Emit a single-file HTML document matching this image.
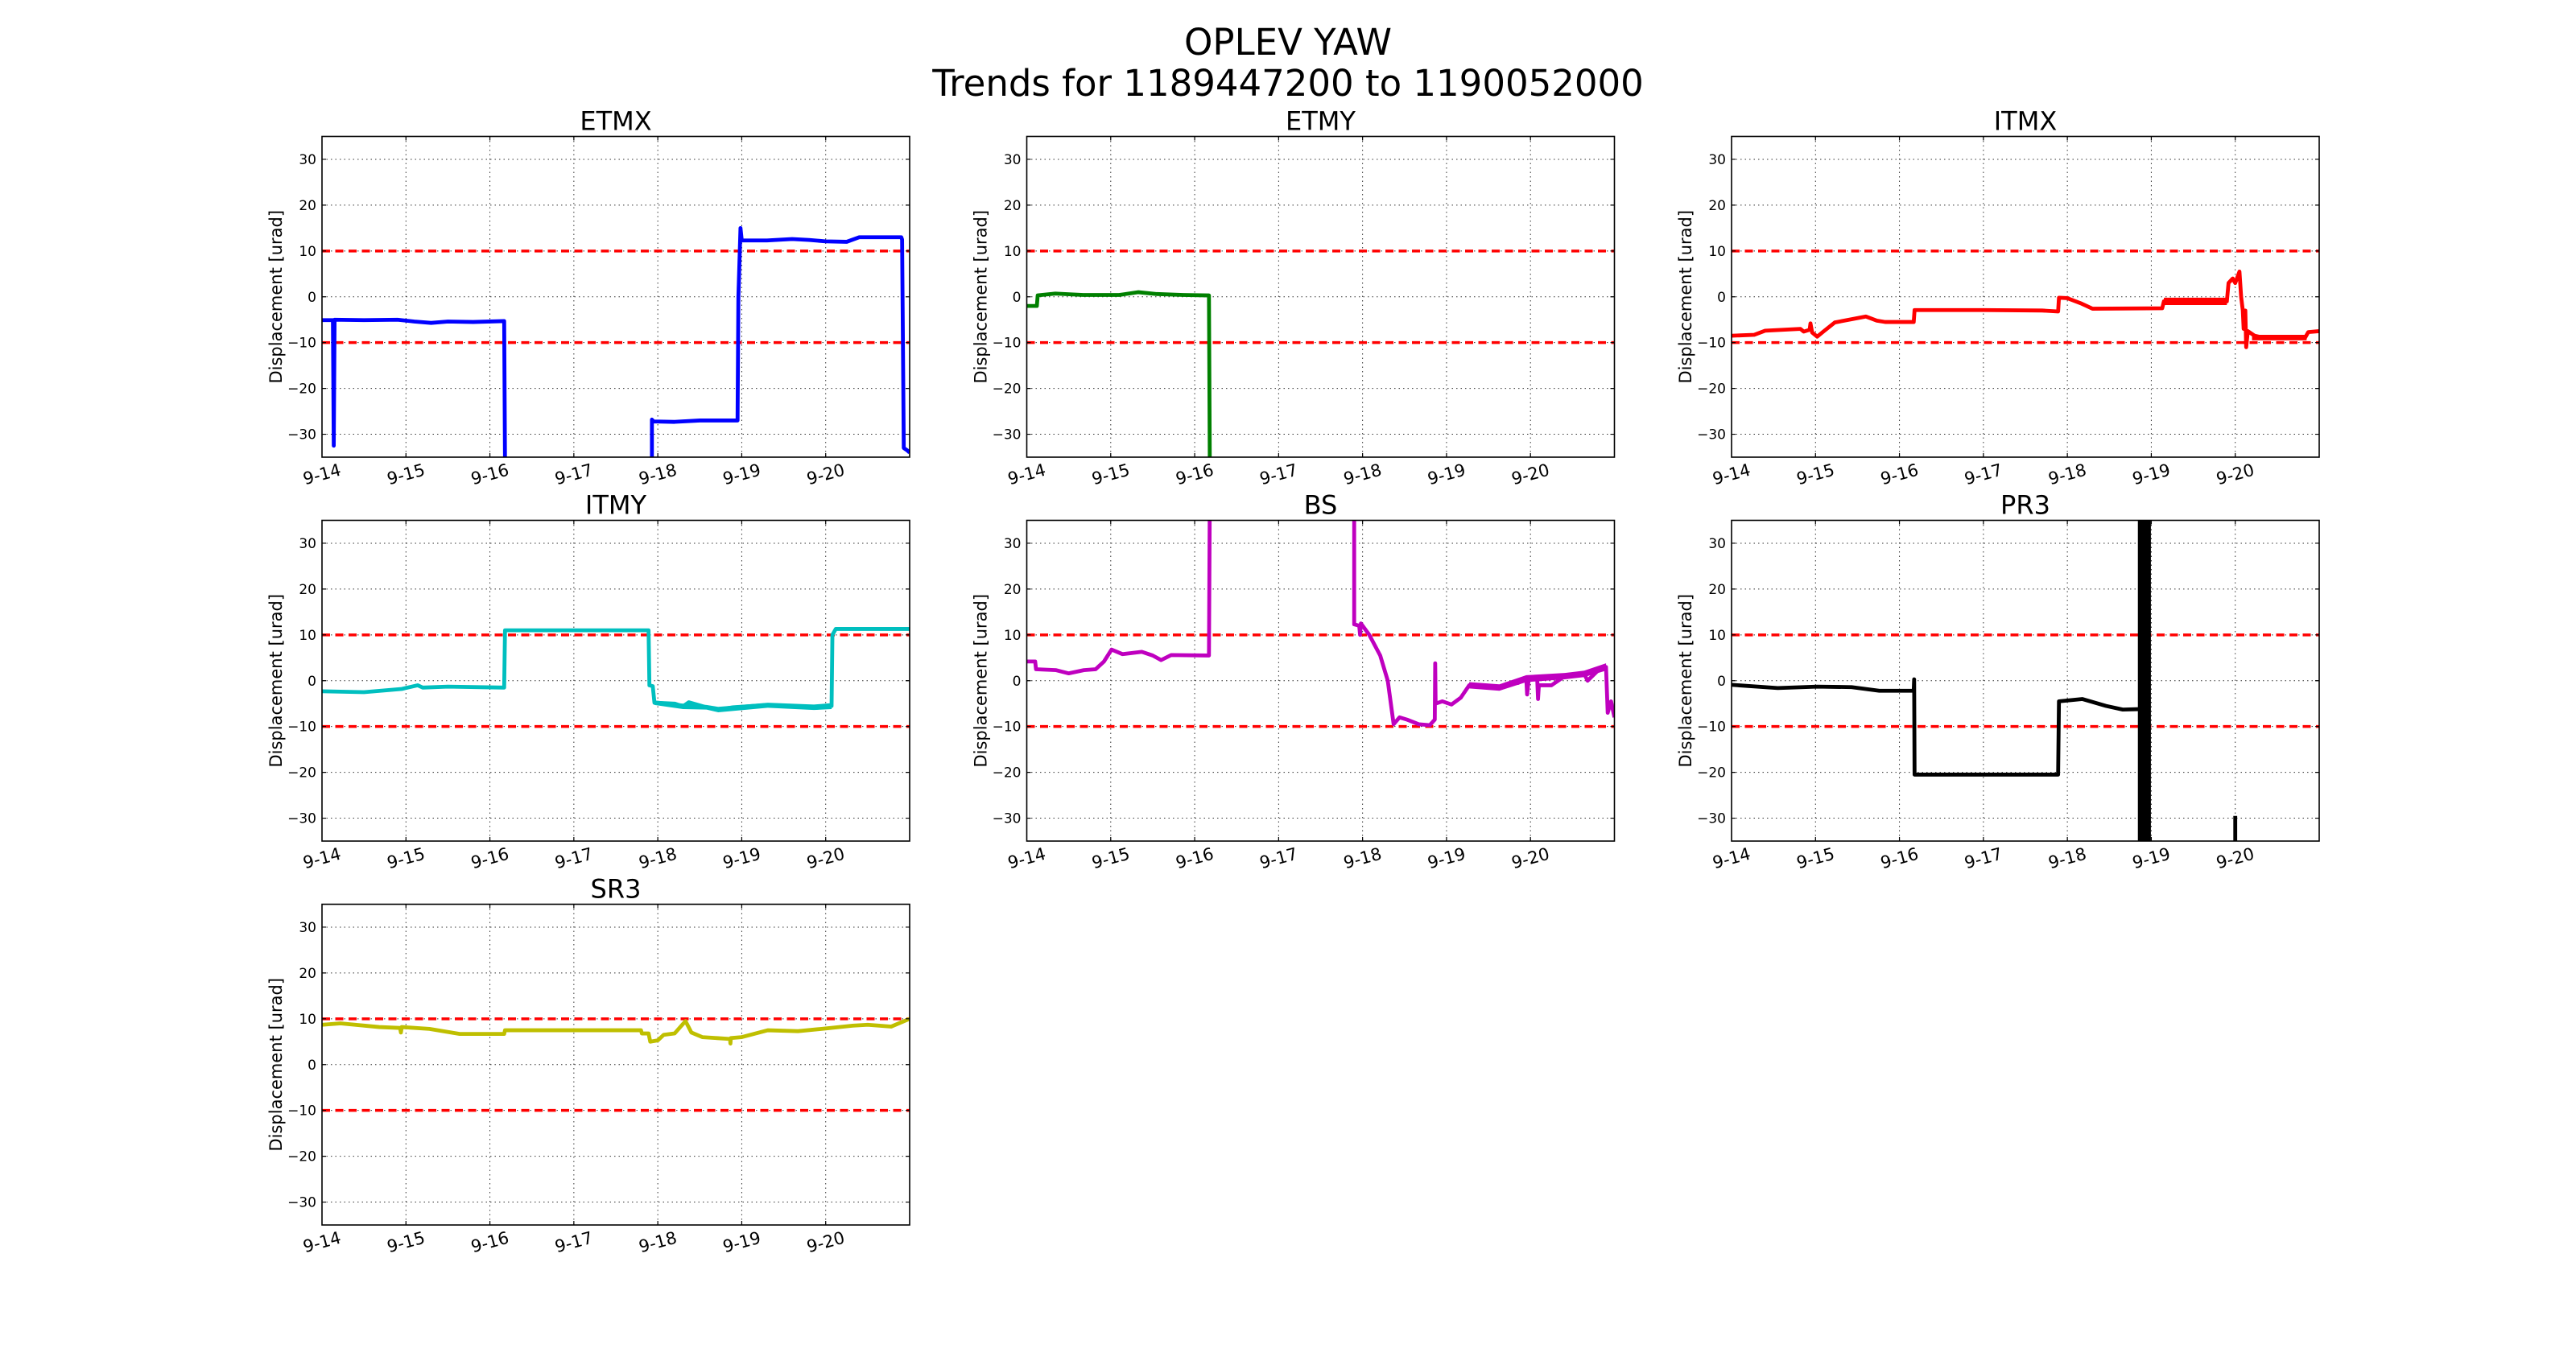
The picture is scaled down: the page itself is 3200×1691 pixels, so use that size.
<!DOCTYPE html>
<html><head><meta charset="utf-8"><style>
html,body{margin:0;padding:0;background:#fff;}
svg{display:block;}
text{font-family:"DejaVu Sans","Liberation Sans",sans-serif;fill:#000;}
.yt{font-size:17px;text-anchor:end;}
.xt{font-size:21px;text-anchor:middle;dominant-baseline:central;}
.yl{font-size:21px;text-anchor:middle;dominant-baseline:central;}
.tt{font-size:32px;text-anchor:middle;}
.mt{font-size:45px;text-anchor:middle;}
path.d{fill:none;stroke-width:4.8;stroke-linejoin:round;vector-effect:non-scaling-stroke;}
</style></head><body>
<svg width="3200" height="1691" viewBox="0 0 3200 1691" xmlns="http://www.w3.org/2000/svg">
<defs>
<g id="grid">
<g stroke="#333" stroke-width="1" stroke-dasharray="1.5 4">
<line x1="104.29" y1="0" x2="104.29" y2="398.5"/><line x1="208.57" y1="0" x2="208.57" y2="398.5"/>
<line x1="312.86" y1="0" x2="312.86" y2="398.5"/><line x1="417.14" y1="0" x2="417.14" y2="398.5"/>
<line x1="521.43" y1="0" x2="521.43" y2="398.5"/><line x1="625.71" y1="0" x2="625.71" y2="398.5"/>
<line x1="0" y1="28.46" x2="730" y2="28.46"/><line x1="0" y1="85.39" x2="730" y2="85.39"/>
<line x1="0" y1="142.32" x2="730" y2="142.32"/><line x1="0" y1="199.25" x2="730" y2="199.25"/>
<line x1="0" y1="256.18" x2="730" y2="256.18"/><line x1="0" y1="313.1" x2="730" y2="313.1"/>
<line x1="0" y1="370.04" x2="730" y2="370.04"/>
</g>
<g stroke="#f00" stroke-width="3.5" stroke-dasharray="10 6.5">
<line x1="0" y1="142.32" x2="730" y2="142.32"/><line x1="0" y1="256.18" x2="730" y2="256.18"/>
</g>
</g>
<g id="frame" fill="none" stroke="#000">
<rect x="0" y="0" width="730" height="398.5" stroke-width="1.6"/>
<path stroke-width="1.2" d="M0,28.46h5M0,85.39h5M0,142.32h5M0,199.25h5M0,256.18h5M0,313.1h5M0,370.04h5
M730,28.46h-5M730,85.39h-5M730,142.32h-5M730,199.25h-5M730,256.18h-5M730,313.1h-5M730,370.04h-5
M104.29,0v5M208.57,0v5M312.86,0v5M417.14,0v5M521.43,0v5M625.71,0v5
M104.29,398.5v-5M208.57,398.5v-5M312.86,398.5v-5M417.14,398.5v-5M521.43,398.5v-5M625.71,398.5v-5"/>
</g>
<g id="labels">
<text class="yt" x="-7" y="34.5">30</text>
<text class="yt" x="-7" y="91.4">20</text>
<text class="yt" x="-7" y="148.3">10</text>
<text class="yt" x="-7" y="205.3">0</text>
<text class="yt" x="-7" y="262.2">−10</text>
<text class="yt" x="-7" y="319.1">−20</text>
<text class="yt" x="-7" y="376">−30</text>
<text class="xt" transform="translate(0,420) rotate(-15)">9-14</text>
<text class="xt" transform="translate(104.29,420) rotate(-15)">9-15</text>
<text class="xt" transform="translate(208.57,420) rotate(-15)">9-16</text>
<text class="xt" transform="translate(312.86,420) rotate(-15)">9-17</text>
<text class="xt" transform="translate(417.14,420) rotate(-15)">9-18</text>
<text class="xt" transform="translate(521.43,420) rotate(-15)">9-19</text>
<text class="xt" transform="translate(625.71,420) rotate(-15)">9-20</text>
<text class="yl" transform="translate(-57,199.25) rotate(-90)">Displacement [urad]</text>
</g>
</defs>

<text class="mt" x="1600" y="68">OPLEV YAW</text>
<text class="mt" x="1600" y="119">Trends for 1189447200 to 1190052000</text>

<!-- ETMX -->
<g transform="translate(400,169.5)">
<use href="#grid"/>
<svg width="730" height="398.5" viewBox="0 -35 7 70" preserveAspectRatio="none">
<path class="d" stroke="#0000ff" d="M0,5.1 L0.13,5.1 L0.14,32.5 L0.15,5 L0.5,5.1 L0.9,5 L1.1,5.4 L1.3,5.7 L1.5,5.4 L1.8,5.5 L2.17,5.3 L2.18,36 M3.93,36 L3.93,26.8 L3.95,27.2 L4.2,27.3 L4.5,27 L4.95,27 L4.96,0 L4.98,-12 L4.985,-15 L5,-12.3 L5.3,-12.3 L5.6,-12.6 L5.8,-12.4 L6,-12.1 L6.25,-12 L6.4,-13 L6.9,-13 L6.91,-12.5 L6.93,33 L6.97,33.5 L7,34"/>
</svg>
<use href="#frame"/><use href="#labels"/>
<text class="tt" x="365" y="-8">ETMX</text>
</g>

<!-- ETMY -->
<g transform="translate(1275.5,169.5)">
<use href="#grid"/>
<svg width="730" height="398.5" viewBox="0 -35 7 70" preserveAspectRatio="none">
<path class="d" stroke="#008000" d="M0,2 L0.12,2 L0.13,-0.3 L0.34,-0.7 L0.67,-0.4 L1.1,-0.4 L1.33,-1 L1.55,-0.6 L1.86,-0.4 L2.17,-0.3 L2.18,36"/>
</svg>
<use href="#frame"/><use href="#labels"/>
<text class="tt" x="365" y="-8">ETMY</text>
</g>

<!-- ITMX -->
<g transform="translate(2151,169.5)">
<use href="#grid"/>
<svg width="730" height="398.5" viewBox="0 -35 7 70" preserveAspectRatio="none">
<rect x="5.15" y="0.2" width="0.75" height="1.6" fill="#f00"/>
<rect x="6.2" y="8.3" width="0.65" height="1.2" fill="#f00"/>
<path class="d" stroke="#ff0000" d="M0,8.5 L0.27,8.3 L0.4,7.4 L0.82,7 L0.86,7.6 L0.93,7.2 L0.94,5.8 L0.96,7.8 L1.02,8.7 L1.1,7.5 L1.23,5.6 L1.6,4.3 L1.73,5.2 L1.83,5.5 L2.17,5.5 L2.18,2.9 L3,2.9 L3.7,3 L3.89,3.2 L3.9,0.2 L4,0.3 L4.17,1.5 L4.3,2.6 L5.13,2.5 L5.15,1 L5.9,1 L5.92,-3 L5.97,-4 L6,-3 L6.05,-5.5 L6.07,0 L6.09,3 L6.1,7 L6.12,3 L6.13,11 L6.15,7.5 L6.23,8.5 L6.35,9 L6.5,8.8 L6.6,9 L6.83,9 L6.87,7.7 L7,7.5"/>
</svg>
<use href="#frame"/><use href="#labels"/>
<text class="tt" x="365" y="-8">ITMX</text>
</g>

<!-- ITMY -->
<g transform="translate(400,646.5)">
<use href="#grid"/>
<svg width="730" height="398.5" viewBox="0 -35 7 70" preserveAspectRatio="none">
<path d="M3.96,4.3 L4.3,5 L4.58,5.3 L4.72,5.7 L5.31,4.8 L5.86,5.2 L6.07,4.9 L6.07,6.2 L5.86,6.4 L5.31,5.9 L4.72,6.9 L4.58,6.3 L4.3,6.2 L3.96,5.3 Z" fill="#00bfbf"/>
<path class="d" stroke="#00bfbf" d="M0,2.3 L0.5,2.5 L0.95,1.8 L1.14,1 L1.2,1.5 L1.5,1.3 L2.17,1.5 L2.18,-11 L3.89,-11 L3.9,1 L3.94,1.2 L3.96,4.8 L4.2,5 L4.3,5.6 L4.37,4.7 L4.58,5.8 L4.72,6.3 L4.9,5.8 L5.31,5.3 L5.86,5.8 L6.07,5.5 L6.08,-10 L6.12,-11.3 L7,-11.3"/>
</svg>
<use href="#frame"/><use href="#labels"/>
<text class="tt" x="365" y="-8">ITMY</text>
</g>

<!-- BS -->
<g transform="translate(1275.5,646.5)">
<use href="#grid"/>
<svg width="730" height="398.5" viewBox="0 -35 7 70" preserveAspectRatio="none">
<path d="M5.27,0.3 L5.63,0.8 L5.95,-1.2 L6.41,-1.7 L6.64,-2.2 L6.9,-3.8 L6.9,-2.2 L6.64,-0.8 L6.41,-0.3 L5.95,0.3 L5.63,2.2 L5.27,1.7 Z" fill="#bf00bf"/>
<path class="d" stroke="#bf00bf" d="M0,-4.2 L0.1,-4.2 L0.11,-2.5 L0.35,-2.3 L0.5,-1.6 L0.68,-2.3 L0.82,-2.5 L0.92,-4.2 L1.01,-6.8 L1.14,-5.8 L1.23,-6 L1.37,-6.3 L1.5,-5.5 L1.6,-4.5 L1.72,-5.6 L2.17,-5.5 L2.18,-40 M3.9,-40 L3.9,-12.3 L3.96,-12 L3.97,-10 L3.98,-12.5 L4.08,-10 L4.21,-5.5 L4.3,0 L4.37,9.5 L4.44,8 L4.53,8.5 L4.67,9.5 L4.8,9.7 L4.86,8.5 L4.865,-3.8 L4.87,5 L4.95,4.5 L5.06,5.2 L5.17,3.7 L5.27,1 L5.45,1.2 L5.63,1.5 L5.75,0.6 L5.85,0.5 L5.95,-0.5 L5.96,3 L5.98,-0.5 L6.08,-0.5 L6.09,4 L6.1,1 L6.25,1 L6.41,-1 L6.55,-1.3 L6.64,-1.5 L6.68,0 L6.82,-2.5 L6.9,-3 L6.92,7 L6.96,4.5 L7,8"/>
</svg>
<use href="#frame"/><use href="#labels"/>
<text class="tt" x="365" y="-8">BS</text>
</g>

<!-- PR3 -->
<g transform="translate(2151,646.5)">
<use href="#grid"/>
<svg width="730" height="398.5" viewBox="0 -35 7 70" preserveAspectRatio="none">
<path class="d" stroke="#000" d="M0,0.9 L0.55,1.6 L1.02,1.3 L1.43,1.4 L1.76,2.2 L2.17,2.2 L2.175,-0.3 L2.18,20.5 L3.89,20.5 L3.9,4.5 L4.18,4 L4.46,5.5 L4.66,6.3 L4.86,6.2 M6,36 L6,29.5"/>
<rect x="4.84" y="-36" width="0.155" height="72" fill="#000"/>
</svg>
<use href="#frame"/><use href="#labels"/>
<text class="tt" x="365" y="-8">PR3</text>
</g>

<!-- SR3 -->
<g transform="translate(400,1123.5)">
<use href="#grid"/>
<svg width="730" height="398.5" viewBox="0 -35 7 70" preserveAspectRatio="none">
<path class="d" stroke="#bfbf00" d="M0,-8.7 L0.22,-9 L0.68,-8.2 L0.93,-8 L0.94,-7 L0.95,-8.2 L1.28,-7.8 L1.64,-6.7 L2.17,-6.7 L2.18,-7.5 L3.8,-7.5 L3.81,-6.8 L3.89,-6.8 L3.91,-5 L4,-5.3 L4.07,-6.5 L4.2,-6.8 L4.33,-9.5 L4.4,-7 L4.53,-6 L4.86,-5.6 L4.865,-4.6 L4.87,-5.8 L5,-6 L5.31,-7.5 L5.67,-7.3 L5.95,-7.8 L6.32,-8.5 L6.5,-8.7 L6.78,-8.3 L7,-10"/>
</svg>
<use href="#frame"/><use href="#labels"/>
<text class="tt" x="365" y="-8">SR3</text>
</g>
</svg>
</body></html>
